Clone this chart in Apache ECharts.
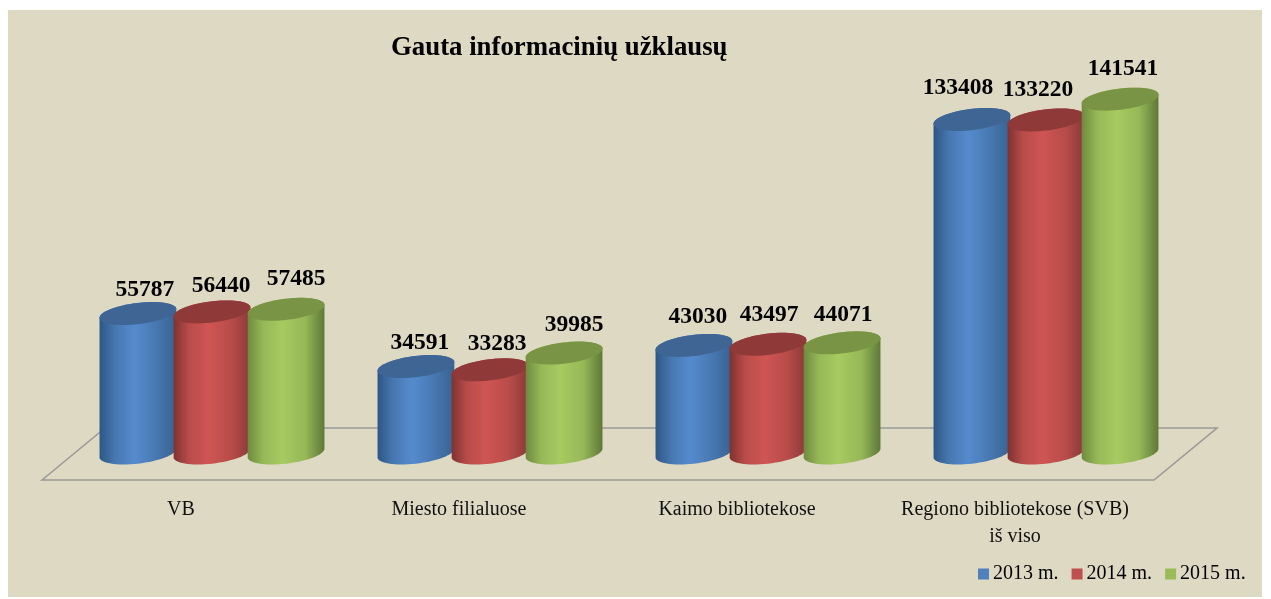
<!DOCTYPE html>
<html>
<head>
<meta charset="utf-8">
<title>Gauta informacinių užklausų</title>
<script src="https://cdn.jsdelivr.net/npm/echarts@6/dist/echarts.min.js"></script>
<style>
  html, body { margin: 0; padding: 0; background: #fff; }
  #chart { position: absolute; left: 0; top: 0; width: 1271px; height: 599px; }
</style>
</head>
<body>
<div id="chart"></div>
<script>
  const categories = ['VB', 'Miesto filialuose', 'Kaimo bibliotekose', 'Regiono bibliotekose (SVB)\niš viso'];
  const years = ['2013 m.', '2014 m.', '2015 m.'];
  const values2013 = [55787, 34591, 43030, 133408];
  const values2014 = [56440, 33283, 43497, 133220];
  const values2015 = [57485, 39985, 44071, 141541];

  // hand placed data labels in the original, dx/dy from the top of each cylinder
  const labelShift = [
    [[7, -24], [4, -24], [4, -29], [-14, -32]],
    [[9, -26], [7, -26], [1, -29], [-8, -30]],
    [[10, -30], [10, -28], [1, -28], [3, -30]]
  ];

  const font = '"Liberation Serif", "Times New Roman", serif';
  const TILT = 7 * Math.PI / 180;

  function ellipse(cx, cy, a, b, from, to, steps) {
    const pts = [];
    for (let i = 0; i <= steps; i++) {
      const t = from + (to - from) * i / steps;
      pts.push([
        cx + a * Math.cos(t) * Math.cos(TILT) + b * Math.sin(t) * Math.sin(TILT),
        cy - a * Math.cos(t) * Math.sin(TILT) + b * Math.sin(t) * Math.cos(TILT)
      ]);
    }
    return pts;
  }

  function sideGradient(c) {
    return new echarts.graphic.LinearGradient(0, 0, 1, 0, [
      { offset: 0, color: c[0] },
      { offset: 0.2, color: c[1] },
      { offset: 0.45, color: c[2] },
      { offset: 0.75, color: c[1] },
      { offset: 1, color: c[3] }
    ]);
  }

  function cylinderSeries(name, data, idx, colors) {
    return {
      name: name,
      type: 'custom',
      z: 3 + idx,
      itemStyle: { color: colors.legend },
      data: data.map((v, i) => [i, v]),
      encode: { x: 0, y: 1 },
      renderItem(params, api) {
        const band = api.size([1, 0])[0];
        const top = api.coord([api.value(0), api.value(1)]);
        const zero = api.coord([api.value(0), 0]);
        // 3D floor depth pushes columns right and up from the axis
        const dx = 31 + (idx - 1) * band * 0.2665;
        const dy = -27;
        const a = band * 0.139, b = band * 0.038;
        const t0 = Math.atan2(b * Math.sin(TILT), a * Math.cos(TILT));
        const cx = top[0] + dx;
        const body = ellipse(cx, zero[1] + dy, a, b, t0, t0 + Math.PI, 32)
          .concat(ellipse(cx, top[1] + dy, a, b, t0 + Math.PI, t0 + 2 * Math.PI, 32));
        const cap = ellipse(cx, top[1] + dy, a, b, 0, 2 * Math.PI, 64);
        const shift = labelShift[idx][params.dataIndex];
        return {
          type: 'group',
          children: [
            { type: 'polygon', shape: { points: body }, style: { fill: sideGradient(colors.side) } },
            { type: 'polygon', shape: { points: cap }, style: { fill: colors.cap } },
            {
              type: 'text',
              x: cx + shift[0],
              y: top[1] + dy + shift[1],
              style: {
                text: String(api.value(1)),
                font: 'bold 23.5px ' + font,
                fill: '#000',
                align: 'center',
                verticalAlign: 'middle'
              }
            }
          ]
        };
      }
    };
  }

  const floorSeries = {
    type: 'custom',
    silent: true,
    z: 1,
    data: [[0, 0]],
    legendHoverLink: false,
    renderItem(params, api) {
      const g = params.coordSys;
      const bottom = g.y + g.height;
      return {
        type: 'polygon',
        shape: {
          points: [
            [g.x, bottom],
            [g.x + 63, bottom - 52],
            [g.x + g.width + 63, bottom - 52],
            [g.x + g.width, bottom]
          ]
        },
        style: { fill: 'none', stroke: '#9a9a98', lineWidth: 1.6 }
      };
    }
  };

  const chart = echarts.init(document.getElementById('chart'), null, { renderer: 'canvas' });
  chart.setOption({
    animation: false,
    backgroundColor: '#fff',
    graphic: [{
      type: 'rect',
      z: -10,
      shape: { x: 8, y: 10, width: 1254, height: 587 },
      style: { fill: '#ddd9c3' }
    }],
    title: {
      text: 'Gauta informacinių užklausų',
      left: 386,
      top: 30,
      textStyle: { fontFamily: font, fontWeight: 'bold', fontSize: 26.8, color: '#000' }
    },
    legend: {
      data: years,
      left: 973,
      top: 559,
      icon: 'rect',
      itemWidth: 11,
      itemHeight: 11,
      itemGap: 13,
      textStyle: { fontFamily: font, fontSize: 20, color: '#000', padding: [0, 0, 0, -1] }
    },
    grid: { left: 42, top: 80, width: 1112, height: 400 },
    xAxis: {
      type: 'category',
      data: categories,
      axisLine: { show: false },
      axisTick: { show: false },
      axisLabel: {
        margin: 16,
        interval: 0,
        fontFamily: font,
        fontSize: 20,
        lineHeight: 27,
        color: '#111'
      }
    },
    yAxis: { type: 'value', min: 0, max: 160000, show: false, splitLine: { show: false } },
    series: [
      floorSeries,
      cylinderSeries(years[0], values2013, 0, {
        legend: '#4f81bd', cap: '#3e6594',
        side: ['#2d5684', '#4777b0', '#558bce', '#386190']
      }),
      cylinderSeries(years[1], values2014, 1, {
        legend: '#c0504d', cap: '#8f3a39',
        side: ['#7f3231', '#b84c4a', '#cf5553', '#8a3a38']
      }),
      cylinderSeries(years[2], values2015, 2, {
        legend: '#9bbb59', cap: '#7a9445',
        side: ['#6f8a40', '#96b857', '#a7ca61', '#5f7838']
      })
    ]
  });
</script>
</body>
</html>
